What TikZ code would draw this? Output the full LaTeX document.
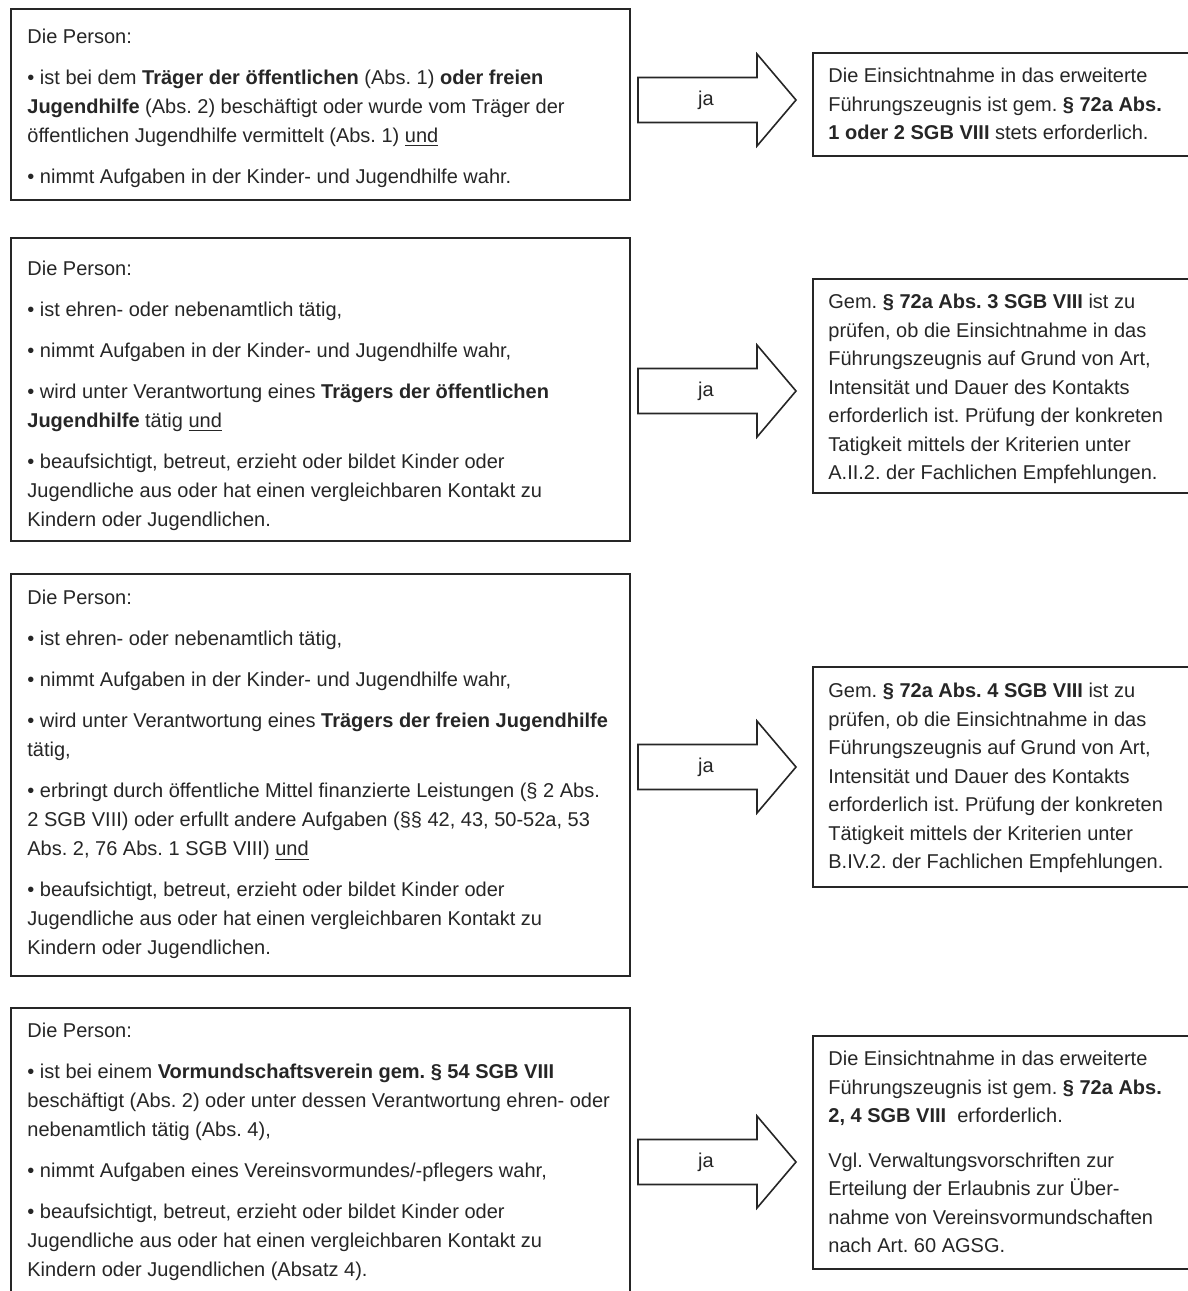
\documentclass[tikz,border=0pt]{standalone}
\usepackage{fontspec}
\setmainfont{Liberation Sans}
\usetikzlibrary{positioning}
\frenchspacing

\begin{document}
\begin{tikzpicture}[x=0.5pt,y=-0.5pt,
	box/.style={draw=black!85,line width=1pt,anchor=north west,inner sep=0pt},
	txt/.style={anchor=north west,align=left,inner sep=0pt,text=black!85,font=\fontsize{10pt}{14.5pt}\selectfont},
	rtxt/.style={txt,font=\fontsize{10pt}{14.25pt}\selectfont},
	jaarrow/.style={draw=black!85,line width=0.8pt,line join=miter}]
	\clip (0,0) rectangle (1188,1291);
	\fill[white] (0,0) rectangle (1188,1291);
	
	%left boxes
	\node[box,minimum width=309.5pt,minimum height=95.5pt] (p1) at (10,8) {};
	\node[box,minimum width=309.5pt,minimum height=151.5pt] (p2) at (10,237) {};
	\node[box,minimum width=309.5pt,minimum height=201pt] (p3) at (10,573) {};
	\node[box,minimum width=309.5pt,minimum height=160pt] (p4) at (10,1007) {};	%cut off below
	
	%right boxes
	\node[box,minimum width=200pt,minimum height=51.5pt] (r1) at (812,52) {};
	\node[box,minimum width=200pt,minimum height=107pt] (r2) at (812,278) {};
	\node[box,minimum width=200pt,minimum height=110pt] (r3) at (812,666) {};
	\node[box,minimum width=200pt,minimum height=116.5pt] (r4) at (812,1035) {};
	
	%left texts
	\node[txt] (p1text) at (27,29) {Die Person:\\[6pt]
		\textbullet{} ist bei dem \textbf{Träger der öffentlichen} (Abs. 1) \textbf{oder freien}\\
		\textbf{Jugendhilfe} (Abs. 2) beschäftigt oder wurde vom Träger der\\
		öffentlichen Jugendhilfe vermittelt (Abs. 1) \underline{und}\\[6pt]
		\textbullet{} nimmt Aufgaben in der Kinder- und Jugendhilfe wahr.};
	\node[txt] (p2text) at (27,261) {Die Person:\\[6pt]
		\textbullet{} ist ehren- oder nebenamtlich tätig,\\[6pt]
		\textbullet{} nimmt Aufgaben in der Kinder- und Jugendhilfe wahr,\\[6pt]
		\textbullet{} wird unter Verantwortung eines \textbf{Trägers der öffentlichen}\\
		\textbf{Jugendhilfe} tätig \underline{und}\\[6pt]
		\textbullet{} beaufsichtigt, betreut, erzieht oder bildet Kinder oder\\
		Jugendliche aus oder hat einen vergleichbaren Kontakt zu\\
		Kindern oder Jugendlichen.};
	\node[txt] (p3text) at (27,590) {Die Person:\\[6pt]
		\textbullet{} ist ehren- oder nebenamtlich tätig,\\[6pt]
		\textbullet{} nimmt Aufgaben in der Kinder- und Jugendhilfe wahr,\\[6pt]
		\textbullet{} wird unter Verantwortung eines \textbf{Trägers der freien Jugendhilfe}\\
		tätig,\\[6pt]
		\textbullet{} erbringt durch öffentliche Mittel finanzierte Leistungen (§ 2 Abs.\\
		2 SGB VIII) oder erfullt andere Aufgaben (§§ 42, 43, 50-52a, 53\\
		Abs. 2, 76 Abs. 1 SGB VIII) \underline{und}\\[6pt]
		\textbullet{} beaufsichtigt, betreut, erzieht oder bildet Kinder oder\\
		Jugendliche aus oder hat einen vergleichbaren Kontakt zu\\
		Kindern oder Jugendlichen.};
	\node[txt] (p4text) at (27,1023) {Die Person:\\[6pt]
		\textbullet{} ist bei einem \textbf{Vormundschaftsverein gem. § 54 SGB VIII}\\
		beschäftigt (Abs. 2) oder unter dessen Verantwortung ehren- oder\\
		nebenamtlich tätig (Abs. 4),\\[6pt]
		\textbullet{} nimmt Aufgaben eines Vereinsvormundes/-pflegers wahr,\\[6pt]
		\textbullet{} beaufsichtigt, betreut, erzieht oder bildet Kinder oder\\
		Jugendliche aus oder hat einen vergleichbaren Kontakt zu\\
		Kindern oder Jugendlichen (Absatz 4).};
	
	%right texts
	\node[rtxt] (r1text) at (828,68) {Die Einsichtnahme in das erweiterte\\
		Führungszeugnis ist gem. \textbf{§ 72a Abs.}\\
		\textbf{1 oder 2 SGB VIII} stets erforderlich.};
	\node[rtxt] (r2text) at (828,294) {Gem. \textbf{§ 72a Abs. 3 SGB VIII} ist zu\\
		prüfen, ob die Einsichtnahme in das\\
		Führungszeugnis auf Grund von Art,\\
		Intensität und Dauer des Kontakts\\
		erforderlich ist. Prüfung der konkreten\\
		Tatigkeit mittels der Kriterien unter\\
		A.II.2. der Fachlichen Empfehlungen.};
	\node[rtxt] (r3text) at (828,683) {Gem. \textbf{§ 72a Abs. 4 SGB VIII} ist zu\\
		prüfen, ob die Einsichtnahme in das\\
		Führungszeugnis auf Grund von Art,\\
		Intensität und Dauer des Kontakts\\
		erforderlich ist. Prüfung der konkreten\\
		Tätigkeit mittels der Kriterien unter\\
		B.IV.2. der Fachlichen Empfehlungen.};
	\node[rtxt] (r4text) at (828,1051) {Die Einsichtnahme in das erweiterte\\
		Führungszeugnis ist gem. \textbf{§ 72a Abs.}\\
		\textbf{2, 4 SGB VIII}\ \ erforderlich.\\[8pt]
		Vgl. Verwaltungsvorschriften zur\\
		Erteilung der Erlaubnis zur Über-\\
		nahme von Vereinsvormundschaften\\
		nach Art. 60 AGSG.};
	
	%ja arrows
	\foreach \n/\y in {1/100,2/391,3/767,4/1162}{
		\draw[jaarrow] (638,\y-22.5) -- (757,\y-22.5) -- (757,\y-46) -- (796,\y)
			-- (757,\y+46) -- (757,\y+22.5) -- (638,\y+22.5) -- cycle;
		\node[text=black!85,font=\fontsize{10pt}{12pt}\selectfont] (ja\n) at (706,\y) {ja};
	}
\end{tikzpicture}
\end{document}
